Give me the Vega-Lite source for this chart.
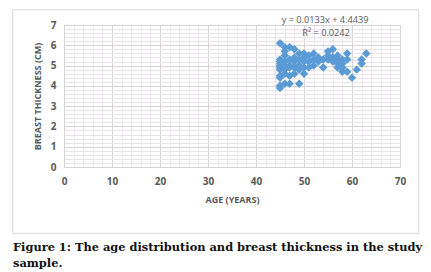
{
  "$schema": "https://vega.github.io/schema/vega-lite/v6.json",
  "autosize": "none",
  "width": 336,
  "height": 142,
  "padding": {"left": 64, "top": 25, "right": 31, "bottom": 105},
  "background": "white",
  "config": {
    "view": {"stroke": null},
    "font": "Open Sans",
    "axis": {"labelOverlap": false, "labelFlush": false, "ticks": false, "labelBound": false}
  },
  "title": {
    "text": ["Figure 1: The age distribution and breast thickness in the study", "sample."],
    "orient": "bottom",
    "anchor": "start",
    "frame": "group",
    "dx": -51,
    "offset": 8,
    "font": "DejaVu Serif",
    "fontWeight": "bold",
    "fontSize": 11.4,
    "lineHeight": 16,
    "color": "#111111"
  },
  "datasets": {
    "pts": [
      {"age": 45, "thickness": 6.1}, {"age": 45, "thickness": 3.9}, {"age": 45, "thickness": 4.0}, {"age": 45, "thickness": 4.4}, {"age": 45, "thickness": 4.5}, {"age": 45, "thickness": 4.8}, {"age": 45, "thickness": 4.9}, {"age": 45, "thickness": 5.0}, {"age": 45, "thickness": 5.1}, {"age": 45, "thickness": 5.2}, {"age": 45, "thickness": 5.3},
      {"age": 46, "thickness": 5.7}, {"age": 46, "thickness": 5.9}, {"age": 46, "thickness": 4.1}, {"age": 46, "thickness": 4.6}, {"age": 46, "thickness": 4.8}, {"age": 46, "thickness": 5.0}, {"age": 46, "thickness": 5.2}, {"age": 46, "thickness": 5.5},
      {"age": 47, "thickness": 5.9}, {"age": 47, "thickness": 4.1}, {"age": 47, "thickness": 4.5}, {"age": 47, "thickness": 4.9}, {"age": 47, "thickness": 5.3}, {"age": 47, "thickness": 5.0},
      {"age": 48, "thickness": 5.8}, {"age": 48, "thickness": 4.6}, {"age": 48, "thickness": 4.9}, {"age": 48, "thickness": 5.2}, {"age": 48, "thickness": 5.4},
      {"age": 49, "thickness": 5.6}, {"age": 49, "thickness": 4.1}, {"age": 49, "thickness": 4.8}, {"age": 49, "thickness": 5.0}, {"age": 49, "thickness": 5.3},
      {"age": 50, "thickness": 5.6}, {"age": 50, "thickness": 4.6}, {"age": 50, "thickness": 5.2}, {"age": 50, "thickness": 4.9}, {"age": 50, "thickness": 5.4},
      {"age": 51, "thickness": 5.5}, {"age": 51, "thickness": 4.9}, {"age": 51, "thickness": 5.2},
      {"age": 52, "thickness": 5.6}, {"age": 52, "thickness": 5.0}, {"age": 52, "thickness": 5.3},
      {"age": 53, "thickness": 5.4}, {"age": 53, "thickness": 5.2},
      {"age": 54, "thickness": 4.9}, {"age": 54, "thickness": 5.3},
      {"age": 55, "thickness": 5.7}, {"age": 55, "thickness": 5.3}, {"age": 55, "thickness": 5.5},
      {"age": 56, "thickness": 5.8}, {"age": 56, "thickness": 5.2}, {"age": 56, "thickness": 5.4},
      {"age": 57, "thickness": 5.5}, {"age": 57, "thickness": 5.1}, {"age": 57, "thickness": 4.9}, {"age": 57, "thickness": 5.3},
      {"age": 58, "thickness": 4.7}, {"age": 58, "thickness": 4.9}, {"age": 58, "thickness": 5.1}, {"age": 58, "thickness": 5.3},
      {"age": 59, "thickness": 5.6}, {"age": 59, "thickness": 4.7}, {"age": 59, "thickness": 5.3},
      {"age": 60, "thickness": 4.4},
      {"age": 61, "thickness": 4.8},
      {"age": 62, "thickness": 5.1}, {"age": 62, "thickness": 5.3},
      {"age": 63, "thickness": 5.6}
    ],
    "trend": [
      {"age": 45, "thickness": 5.042},
      {"age": 63, "thickness": 5.282}
    ]
  },
  "layer": [
    {
      "data": {"name": "trend"},
      "mark": {"type": "line", "color": "#c9dcf0", "strokeWidth": 1},
      "encoding": {
        "x": {
          "field": "age", "type": "quantitative",
          "scale": {"domain": [0, 70], "nice": false, "zero": false},
          "axis": {
            "title": "AGE (YEARS)",
            "values": [0,2,4,6,8,10,12,14,16,18,20,22,24,26,28,30,32,34,36,38,40,42,44,46,48,50,52,54,56,58,60,62,64,66,68,70],
            "tickCount": 1000,
            "labelExpr": "datum.value % 10 === 0 ? format(datum.value, 'd') : ''",
            "labelOverlap": false,
            "labelFlush": false,
            "grid": true,
            "gridColor": {"condition": {"test": "datum.value % 10 === 0", "value": "#d4d4d4"}, "value": "#ebe3eb"},
            "gridWidth": 1,
            "ticks": false,
            "domain": true,
            "domainColor": "#d4d4d4",
            "labelFont": "Open Sans",
            "labelFontWeight": "bold",
            "labelFontSize": 10,
            "labelColor": "#595959",
            "labelPadding": 9,
            "titleFont": "Open Sans",
            "titleFontWeight": "bold",
            "titleFontSize": 9,
            "titleColor": "#595959",
            "titlePadding": 9
          }
        },
        "y": {
          "field": "thickness", "type": "quantitative",
          "scale": {"domain": [0, 7], "nice": false, "zero": false},
          "axis": {
            "title": "BREAST THICKNESS (CM)",
            "values": [0,0.2,0.4,0.6,0.8,1,1.2,1.4,1.6,1.8,2,2.2,2.4,2.6,2.8,3,3.2,3.4,3.6,3.8,4,4.2,4.4,4.6,4.8,5,5.2,5.4,5.6,5.8,6,6.2,6.4,6.6,6.8,7],
            "tickCount": 1000,
            "labelExpr": "abs(datum.value - round(datum.value)) < 0.01 ? format(datum.value, 'd') : ''",
            "labelOverlap": false,
            "labelFlush": false,
            "grid": true,
            "gridColor": {"condition": {"test": "abs(datum.value - round(datum.value)) < 0.01", "value": "#d4d4d4"}, "value": "#ebe3eb"},
            "ticks": false,
            "domain": true,
            "domainColor": "#d4d4d4",
            "labelFont": "Open Sans",
            "labelFontWeight": "bold",
            "labelFontSize": 10,
            "labelColor": "#595959",
            "labelPadding": 8,
            "titleFont": "Open Sans",
            "titleFontWeight": "bold",
            "titleFontSize": 9,
            "titleColor": "#595959",
            "titlePadding": 8
          }
        }
      }
    },
    {
      "data": {"name": "pts"},
      "mark": {"type": "point", "shape": "diamond", "filled": true, "size": 72, "color": "#5b9bd5", "opacity": 1},
      "encoding": {
        "x": {"field": "age", "type": "quantitative"},
        "y": {"field": "thickness", "type": "quantitative"}
      }
    },
    {
      "data": {"values": [{}]},
      "mark": {"type": "rect", "fill": null, "stroke": "#d9d9d9", "strokeWidth": 1, "clip": false},
      "encoding": {
        "x": {"datum": -10.7, "type": "quantitative"},
        "x2": {"datum": 73.9},
        "y": {"datum": 7.75, "type": "quantitative"},
        "y2": {"datum": -3.27}
      }
    },
    {
      "data": {"values": [
        {"age": 54.4, "thickness": 7.25, "label": "y = 0.0133x + 4.4439"},
        {"age": 54.6, "thickness": 6.62, "label": "R² = 0.0242"}
      ]},
      "mark": {"type": "text", "font": "Open Sans", "fontSize": 9.2, "color": "#595959", "clip": false, "baseline": "middle"},
      "encoding": {
        "x": {"field": "age", "type": "quantitative"},
        "y": {"field": "thickness", "type": "quantitative"},
        "text": {"field": "label"}
      }
    }
  ]
}
